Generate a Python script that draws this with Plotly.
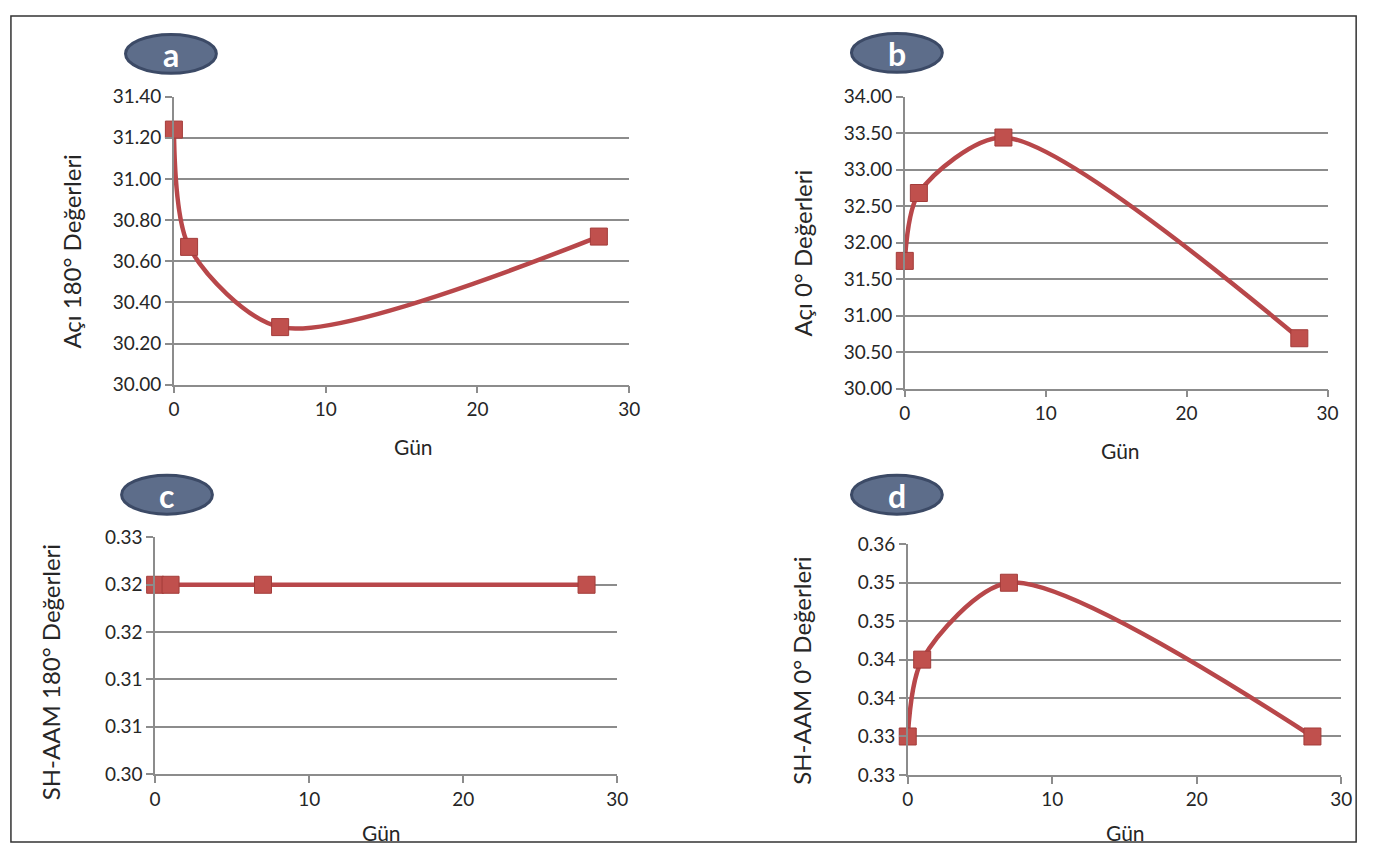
import plotly.graph_objects as go

W, H = 1379, 856

# ---- data ----
days = [0, 1, 7, 28]
aci_180 = [31.24, 30.67, 30.28, 30.72]
aci_0 = [31.75, 32.68, 33.44, 30.69]
sh_aam_180 = [0.32, 0.32, 0.32, 0.32]
sh_aam_0 = [0.33, 0.34, 0.35, 0.33]

x_ticks = [0, 10, 20, 30]
a_ticks = [30.0, 30.2, 30.4, 30.6, 30.8, 31.0, 31.2, 31.4]
a_text = ["30.00", "30.20", "30.40", "30.60", "30.80", "31.00", "31.20", "31.40"]
b_ticks = [30.0, 30.5, 31.0, 31.5, 32.0, 32.5, 33.0, 33.5, 34.0]
b_text = ["30.00", "30.50", "31.00", "31.50", "32.00", "32.50", "33.00", "33.50", "34.00"]
c_ticks = [0.300, 0.305, 0.310, 0.315, 0.320, 0.325]
c_text = ["0.30", "0.31", "0.31", "0.32", "0.32", "0.33"]
d_ticks = [0.325, 0.330, 0.335, 0.340, 0.345, 0.350, 0.355]
d_text = ["0.33", "0.33", "0.34", "0.34", "0.35", "0.35", "0.36"]

y_titles = ["Açı 180° Değerleri", "Açı 0° Değerleri",
            "SH-AAM 180° Değerleri", "SH-AAM 0° Değerleri"]
x_title = "Gün"
panel_letters = ["a", "b", "c", "d"]

# ---- layout geometry (window pixels -> paper fractions) ----
def px(x):
    return x / W

def py(y):
    return 1 - y / H

panels = [
    dict(xd=(170, 631), yd=(87, 383), yr=[30.0, 31.4], tv=a_ticks, tt=a_text, y=aci_180,
         ytitle=(66, 246), xtitle=(413, 447), badge=(167, 43)),
    dict(xd=(910, 1338), yd=(87, 387), yr=[30.0, 34.0], tv=b_ticks, tt=b_text, y=aci_0,
         ytitle=(806, 248), xtitle=(1128, 451), badge=(902, 42)),
    dict(xd=(151, 619), yd=(540, 783), yr=[0.300, 0.325], tv=c_ticks, tt=c_text, y=sh_aam_180,
         ytitle=(45, 678), xtitle=(380, 843), badge=(163, 496)),
    dict(xd=(913, 1352), yd=(547, 784), yr=[0.325, 0.355], tv=d_ticks, tt=d_text, y=sh_aam_0,
         ytitle=(806, 677), xtitle=(1133, 843), badge=(902, 496)),
]

FONT = "Lato, 'Liberation Sans', sans-serif"
RED = "#c0504d"
LINE = "#b8474a"
GRID = "#8c8c8c"
TXT = "#262626"

fig = go.Figure()
layout = dict(
    autosize=True, margin=dict(l=0, r=0, t=0, b=0, pad=0),
    paper_bgcolor="white", plot_bgcolor="white", showlegend=False,
    font=dict(family=FONT, size=18, color=TXT),
)
annotations = []
shapes = []

for i, p in enumerate(panels):
    n = "" if i == 0 else str(i + 1)
    xa, ya = "x" + n, "y" + n
    fig.add_trace(go.Scatter(
        x=days, y=p["y"], mode="lines+markers", xaxis=xa, yaxis=ya,
        line=dict(color=LINE, width=4.5, shape="spline", smoothing=0.8),
        marker=dict(symbol="square", size=17, color=RED,
                    line=dict(color="#a33c3a", width=1)),
        cliponaxis=False,
    ))
    layout["xaxis" + n] = dict(
        domain=[px(p["xd"][0]), px(p["xd"][1])], anchor=ya,
        range=[0, 30], tickvals=x_ticks, ticktext=[str(v) for v in x_ticks],
        showgrid=False, zeroline=False, showline=True, linecolor=GRID, linewidth=1.5,
        ticks="outside", ticklen=7, tickcolor=GRID, tickwidth=1.5,
        tickfont=dict(family=FONT, size=19, color=TXT),
    )
    layout["yaxis" + n] = dict(
        domain=[py(p["yd"][1]), py(p["yd"][0])], anchor=xa,
        range=p["yr"], tickvals=p["tv"], ticktext=p["tt"],
        showgrid=True, gridcolor=GRID, gridwidth=1.5, zeroline=False,
        showline=True, linecolor=GRID, linewidth=1.5,
        ticks="outside", ticklen=7, tickcolor=GRID, tickwidth=1.5,
        tickfont=dict(family=FONT, size=19, color=TXT),
    )
    annotations.append(dict(
        x=px(p["ytitle"][0]), y=py(p["ytitle"][1]), xref="paper", yref="paper",
        text=y_titles[i], textangle=-90, showarrow=False,
        font=dict(family=FONT, size=24, color=TXT),
        xanchor="center", yanchor="middle",
    ))
    annotations.append(dict(
        x=px(p["xtitle"][0]), y=py(p["xtitle"][1]), xref="paper", yref="paper",
        text=x_title, showarrow=False,
        font=dict(family=FONT, size=21, color=TXT),
        xanchor="center", yanchor="middle",
    ))
    bx, by = p["badge"]
    shapes.append(dict(
        type="circle", xref="paper", yref="paper",
        x0=px(bx - 46), x1=px(bx + 46), y0=py(by + 20), y1=py(by - 20),
        fillcolor="#5d6d8a", line=dict(color="#3c4a66", width=3),
    ))
    annotations.append(dict(
        x=px(bx), y=py(by + 1), xref="paper", yref="paper",
        text="<b>" + panel_letters[i] + "</b>", showarrow=False,
        font=dict(family=FONT, size=32, color="white"),
        xanchor="center", yanchor="middle",
    ))

# outer frame
shapes.append(dict(
    type="rect", xref="paper", yref="paper",
    x0=px(5), x1=px(1367), y0=py(853), y1=py(4),
    line=dict(color="#333333", width=1.5), fillcolor="rgba(0,0,0,0)", layer="below",
))

layout["annotations"] = annotations
layout["shapes"] = shapes
fig.update_layout(**layout)

# div pinned to the top-left corner of the window, exactly window-sized
fig.write_html(
    "out.html",
    config={"displayModeBar": False, "responsive": True},
    default_width="1379px",
    default_height="856px; position:absolute; left:0px; top:0px; margin:0px",
)
